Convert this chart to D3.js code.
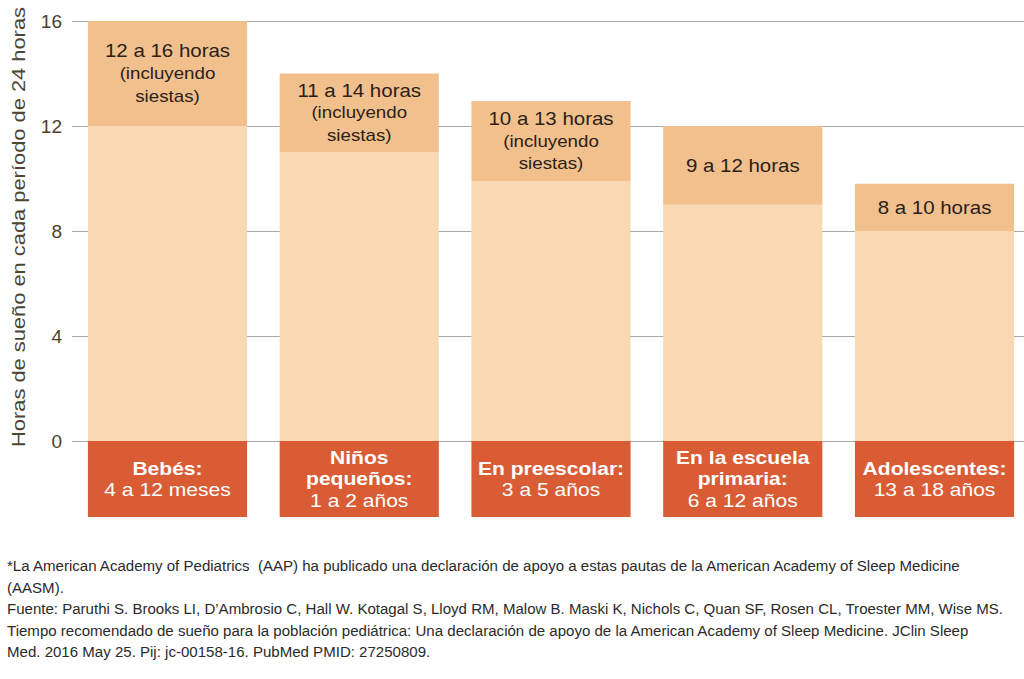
<!DOCTYPE html>
<html><head><meta charset="utf-8">
<script src="https://cdn.jsdelivr.net/npm/d3@7/dist/d3.min.js"></script>
<style>
html,body{margin:0;padding:0;background:#fff;}
svg{display:block;}
</style></head>
<body>
<svg id="chart" width="1024" height="679"></svg>
<script>
// ---- data ----
const categories = ["Bebés", "Niños pequeños", "En preescolar", "En la escuela primaria", "Adolescentes"];
const minHours = [12, 11, 9.9, 9, 8];
const maxHours = [16, 14, 12.95, 12, 9.8];
const rangeLabels = [
  ["12 a 16 horas", "(incluyendo", "siestas)"],
  ["11 a 14 horas", "(incluyendo", "siestas)"],
  ["10 a 13 horas", "(incluyendo", "siestas)"],
  ["9 a 12 horas"],
  ["8 a 10 horas"]
];
const groupLabelsBold = [["Bebés:"], ["Niños", "pequeños:"], ["En preescolar:"], ["En la escuela", "primaria:"], ["Adolescentes:"]];
const groupLabelsAge = ["4 a 12 meses", "1 a 2 años", "3 a 5 años", "6 a 12 años", "13 a 18 años"];
const yTicks = [0, 4, 8, 12, 16];
const yTitle = "Horas de sueño en cada período de 24 horas";
const footnote = [
  "*La American Academy of Pediatrics  (AAP) ha publicado una declaración de apoyo a estas pautas de la American Academy of Sleep Medicine",
  "(AASM).",
  "Fuente: Paruthi S. Brooks LI, D’Ambrosio C, Hall W. Kotagal S, Lloyd RM, Malow B. Maski K, Nichols C, Quan SF, Rosen CL, Troester MM, Wise MS.",
  "Tiempo recomendado de sueño para la población pediátrica: Una declaración de apoyo de la American Academy of Sleep Medicine. JClin Sleep",
  "Med. 2016 May 25. Pij: jc-00158-16. PubMed PMID: 27250809."
];

// ---- styles ----
const C_LIGHT = "#f9d8b4", C_MID = "#f2c08c", C_DARK = "#d95c35";
const STRETCH = 1.17;
const svg = d3.select("#chart");

const y = d3.scaleLinear().domain([0, 16]).range([441, 21]);
const x = d3.scaleBand().domain(categories).range([72, 1030]).paddingInner(0.17).paddingOuter(0.083);

const data = categories.map((c, i) => ({c, min: minHours[i], max: maxHours[i], top: rangeLabels[i], bold: groupLabelsBold[i], age: groupLabelsAge[i]}));

// gridlines + tick labels
const yAxis = d3.axisLeft(y).tickValues(yTicks).tickSize(-(1024 - 72)).tickPadding(10).tickFormat(d3.format("d"));
const ag = svg.append("g").attr("transform", "translate(72,0)").call(yAxis);
ag.select(".domain").remove();
ag.selectAll(".tick line").attr("stroke", "#a9a9a9").attr("stroke-width", 1.2);
ag.selectAll(".tick text").attr("font-family", "Liberation Sans, Arial, sans-serif").attr("font-size", 19)
  .attr("fill", "#4b402f").attr("x", -10).attr("dy", "0.35em");

// bars
const bars = svg.append("g");
bars.selectAll("rect.low").data(data).join("rect").attr("class", "low")
  .attr("x", d => x(d.c)).attr("width", x.bandwidth())
  .attr("y", d => y(d.min)).attr("height", d => y(0) - y(d.min)).attr("fill", C_LIGHT);
bars.selectAll("rect.hi").data(data).join("rect").attr("class", "hi")
  .attr("x", d => x(d.c)).attr("width", x.bandwidth())
  .attr("y", d => y(d.max)).attr("height", d => y(d.min) - y(d.max)).attr("fill", C_MID);
const BOX_H = 76;
bars.selectAll("rect.box").data(data).join("rect").attr("class", "box")
  .attr("x", d => x(d.c)).attr("width", x.bandwidth())
  .attr("y", y(0)).attr("height", BOX_H).attr("fill", C_DARK);

function stretchedText(g, cx, cy, str, opts) {
  return g.append("text")
    .attr("transform", `translate(${cx},${cy}) scale(${STRETCH},1)`)
    .attr("text-anchor", "middle").attr("dy", "0.35em")
    .attr("font-family", "Liberation Sans, Arial, sans-serif")
    .attr("font-size", opts.size).attr("font-weight", opts.weight || "normal")
    .attr("fill", opts.fill).text(str);
}

// range labels
const LH = 22.5;
data.forEach(d => {
  const cx = x(d.c) + x.bandwidth() / 2;
  const cy = (y(d.max) + y(d.min)) / 2;
  const n = d.top.length;
  d.top.forEach((t, k) => {
    stretchedText(svg, cx, cy + (k - (n - 1) / 2) * LH, t, {size: k === 0 ? 17.5 : 16, fill: "#2a2118"});
  });
  const lines = d.bold.map(t => ({t, b: true})).concat([{t: d.age, b: false}]);
  const m = lines.length;
  const bcy = y(0) + BOX_H / 2;
  lines.forEach((l, k) => {
    stretchedText(svg, cx, bcy + (k - (m - 1) / 2) * 21.5, l.t, {size: 18, weight: l.b ? "bold" : "normal", fill: "#fff"});
  });
});

// y title
svg.append("text")
  .attr("transform", `translate(18,227) rotate(-90)`)
  .attr("text-anchor", "middle").attr("dy", "0.35em")
  .attr("font-family", "Liberation Sans, Arial, sans-serif").attr("font-size", 19)
  .attr("textLength", 440).attr("lengthAdjust", "spacingAndGlyphs")
  .attr("fill", "#4d4431").text(yTitle);

// footnote
const fg = svg.append("g");
footnote.forEach((t, k) => {
  fg.append("text").attr("x", 7).attr("y", 571 + k * 21.6)
    .attr("font-family", "Liberation Sans, Arial, sans-serif")
    .style("white-space", "pre")
    .attr("font-size", 15.05).attr("fill", "#2b2b2b").text(t);
});
</script>
</body></html>
